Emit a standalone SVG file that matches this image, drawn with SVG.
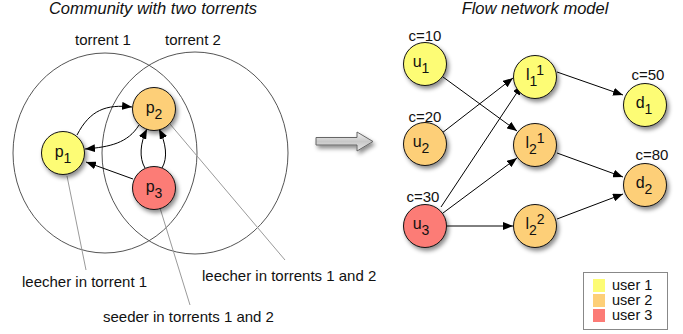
<svg xmlns="http://www.w3.org/2000/svg" width="683" height="334" viewBox="0 0 683 334">
<defs>
<style>
text{font-family:"Liberation Sans",Arial,sans-serif;fill:#111}
.title{font-size:16.5px;font-style:italic;text-anchor:middle}
.lbl{font-size:15px}
.cap{font-size:15px;text-anchor:middle}
.nl{font-size:16px;text-anchor:middle}
.sub{font-size:14px}
.node{stroke:#111;stroke-width:1;filter:url(#sh)}
.y{fill:#FDFC74}
.o{fill:#FDCF78}
.r{fill:#FC7B76}
.edge{fill:none;stroke:#000;stroke-width:1;marker-end:url(#ah)}
.lead{fill:none;stroke:#9a9a9a;stroke-width:1}
.ring{fill:none;stroke:#555;stroke-width:1}
</style>
<filter id="sh" x="-30%" y="-30%" width="170%" height="170%">
<feDropShadow dx="2" dy="3" stdDeviation="2" flood-color="#000" flood-opacity="0.45"/>
</filter>
<marker id="ah" markerUnits="userSpaceOnUse" markerWidth="11" markerHeight="8" refX="10" refY="4" orient="auto">
<path d="M0,0 L10,4 L0,8 Z" fill="#000"/>
</marker>
<linearGradient id="ag" x1="0" y1="0" x2="0" y2="1">
<stop offset="0" stop-color="#f4f4f4"/>
<stop offset="0.5" stop-color="#c8c8c8"/>
<stop offset="1" stop-color="#e8e8e8"/>
</linearGradient>
</defs>

<text class="title" x="153" y="14">Community with two torrents</text>
<text class="title" x="535" y="14">Flow network model</text>

<g id="torrents">
<ellipse class="ring" cx="105" cy="153" rx="92" ry="100"/>
<ellipse class="ring" cx="195" cy="153" rx="93" ry="101"/>
<text class="lbl" x="75" y="45">torrent 1</text>
<text class="lbl" x="165" y="45">torrent 2</text>
</g>

<g id="leaders">
<line class="lead" x1="67" y1="176" x2="86" y2="270"/>
<line class="lead" x1="170" y1="124" x2="285" y2="260"/>
<line class="lead" x1="160" y1="208" x2="190" y2="305"/>
<text class="lbl" x="22" y="287">leecher in torrent 1</text>
<text class="lbl" x="202" y="281">leecher in torrents 1 and 2</text>
<text class="lbl" x="103" y="322">seeder in torrents 1 and 2</text>
</g>

<g id="connectors">
<path class="edge" d="M77,135 C90,110 106,104 132,107"/>
<path class="edge" d="M139,125 C128,143 110,147 85,149"/>
<path class="edge" d="M133,179 L86,162"/>
<path class="edge" d="M145,168 C139,158 140,143 147,129"/>
<path class="edge" d="M162,168 C168,158 166,143 159,129"/>
<path class="edge" d="M443,77 L517,131"/>
<path class="edge" d="M442,133 L513,78"/>
<path class="edge" d="M441,207 L522,85"/>
<path class="edge" d="M443,213 L517,158"/>
<path class="edge" d="M446,226 L513,226"/>
<path class="edge" d="M557,72 L623,95"/>
<path class="edge" d="M557,153 L623,177"/>
<path class="edge" d="M557,219 L623,194"/>
</g>

<g id="big-arrow">
<path d="M316,137.5 L357,137.5 L357,132 L373,141.5 L357,151 L357,145 L316,145 Z" fill="url(#ag)" stroke="#666" stroke-width="1" filter="url(#sh)"/>
</g>

<g id="p1"><circle class="node y" cx="63" cy="153" r="21.5"/><text class="nl" x="63" y="157">p<tspan class="sub" dy="6">1</tspan></text></g>
<g id="p2"><circle class="node o" cx="154" cy="109" r="21.5"/><text class="nl" x="154" y="113">p<tspan class="sub" dy="6">2</tspan></text></g>
<g id="p3"><circle class="node r" cx="154" cy="188" r="21.5"/><text class="nl" x="154" y="192">p<tspan class="sub" dy="6">3</tspan></text></g>

<g id="u1"><text class="cap" x="425" y="41">c=10</text><circle class="node y" cx="425" cy="64" r="21.5"/><text class="nl" x="421" y="67">u<tspan class="sub" dy="6">1</tspan></text></g>
<g id="u2"><text class="cap" x="425" y="122">c=20</text><circle class="node o" cx="425" cy="144" r="21.5"/><text class="nl" x="421" y="147">u<tspan class="sub" dy="6">2</tspan></text></g>
<g id="u3"><text class="cap" x="423" y="202">c=30</text><circle class="node r" cx="425" cy="226" r="21.5"/><text class="nl" x="421" y="229">u<tspan class="sub" dy="6">3</tspan></text></g>

<g id="l11"><circle class="node y" cx="535" cy="77" r="21.5"/><text class="nl" x="535" y="80">l<tspan class="sub" dy="6">1</tspan><tspan class="sub" dy="-11">1</tspan></text></g>
<g id="l21"><circle class="node o" cx="535" cy="145" r="21.5"/><text class="nl" x="535" y="148">l<tspan class="sub" dy="6">2</tspan><tspan class="sub" dy="-11">1</tspan></text></g>
<g id="l22"><circle class="node o" cx="535" cy="226" r="21.5"/><text class="nl" x="535" y="229">l<tspan class="sub" dy="6">2</tspan><tspan class="sub" dy="-11">2</tspan></text></g>

<g id="d1"><text class="cap" x="648" y="80">c=50</text><circle class="node y" cx="645" cy="105" r="21.5"/><text class="nl" x="644" y="108">d<tspan class="sub" dy="6">1</tspan></text></g>
<g id="d2"><text class="cap" x="652" y="160">c=80</text><circle class="node o" cx="645" cy="185" r="21.5"/><text class="nl" x="644" y="188">d<tspan class="sub" dy="6">2</tspan></text></g>

<g id="legend">
<rect x="583.5" y="272.5" width="84" height="57" fill="#fff" stroke="#888" stroke-width="1"/>
<rect x="593" y="279" width="12" height="13" fill="#FDFC74"/>
<rect x="593" y="294" width="12" height="13" fill="#FDCF78"/>
<rect x="593" y="309" width="12" height="13" fill="#FC7B76"/>
<text x="612" y="290" style="font-size:14.5px">user 1</text>
<text x="612" y="305" style="font-size:14.5px">user 2</text>
<text x="612" y="320" style="font-size:14.5px">user 3</text>
</g>
</svg>
